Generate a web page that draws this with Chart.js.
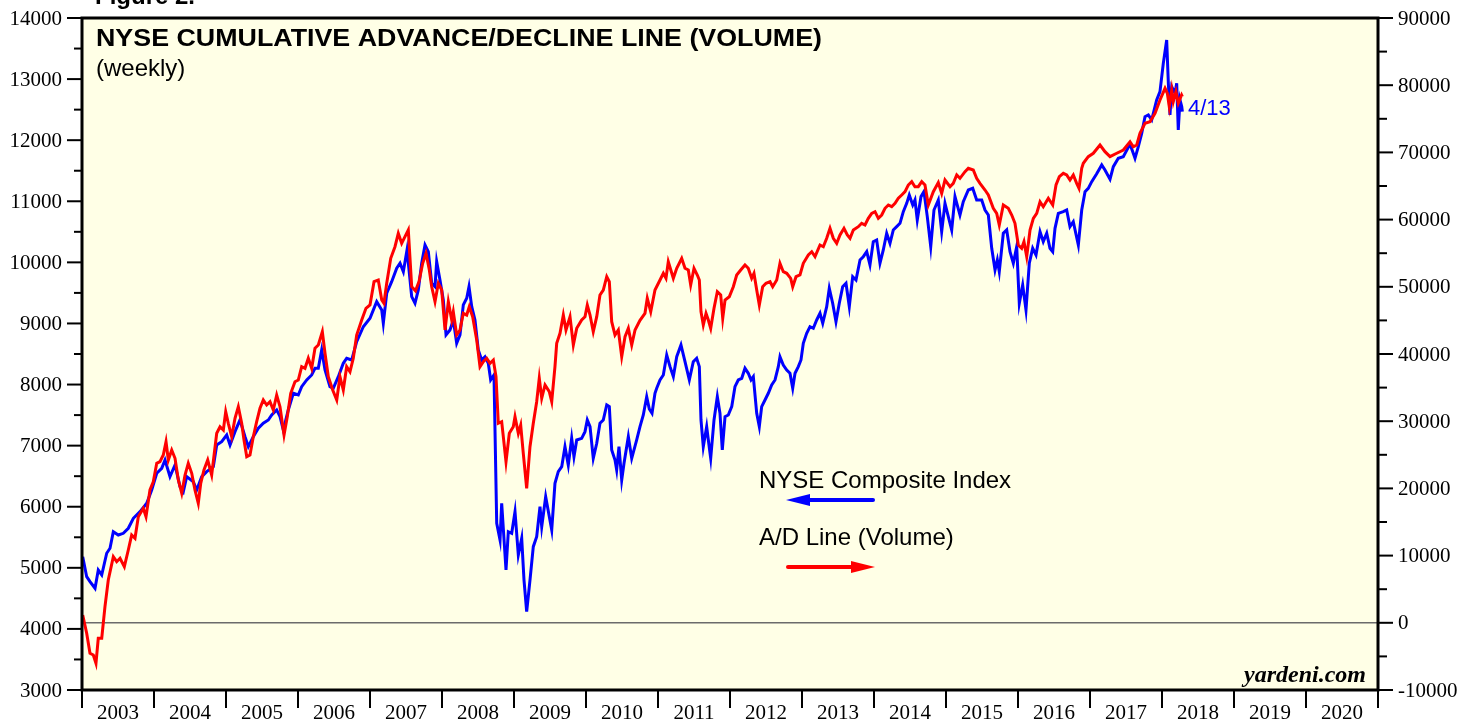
<!DOCTYPE html>
<html>
<head>
<meta charset="utf-8">
<script src="https://cdn.jsdelivr.net/npm/chart.js@4.4.1/dist/chart.umd.min.js"></script>
<style>
html,body{margin:0;padding:0;background:#fff;}
#wrap{width:1461px;height:721px;position:relative;}
</style>
</head>
<body>
<div id="wrap"><canvas id="c" width="1461" height="721"></canvas></div>
<script>
// ---------- DATA ----------
const years = [2003,2004,2005,2006,2007,2008,2009,2010,2011,2012,2013,2014,2015,2016,2017,2018,2019,2020];
const leftTicks = [3000,4000,5000,6000,7000,8000,9000,10000,11000,12000,13000,14000];
const rightTicks = [-10000,0,10000,20000,30000,40000,50000,60000,70000,80000,90000];

const nyseDates = [2003.010,2003.065,2003.111,2003.181,2003.226,2003.274,2003.343,2003.389,2003.435,2003.504,2003.574,2003.643,2003.713,2003.806,2003.899,2003.968,
2004.038,2004.107,2004.153,2004.222,2004.292,2004.361,2004.407,2004.454,2004.546,2004.593,2004.663,2004.732,2004.824,2004.871,2004.940,
2005.010,2005.056,2005.125,2005.194,2005.264,2005.310,2005.379,2005.449,2005.518,2005.588,2005.635,2005.704,2005.750,2005.796,2005.865,2005.935,
2006.004,2006.051,2006.121,2006.190,2006.236,2006.282,2006.329,2006.375,2006.444,2006.490,2006.560,2006.629,2006.676,2006.746,2006.815,2006.907,
2007.000,2007.093,2007.163,2007.185,2007.232,2007.301,2007.371,2007.417,2007.463,2007.514,2007.579,2007.625,2007.671,2007.718,2007.764,2007.810,2007.857,2007.903,2007.926,2007.972,
2008.018,2008.056,2008.111,2008.157,2008.204,2008.250,2008.296,2008.343,2008.375,2008.413,2008.458,2008.504,2008.551,2008.597,2008.643,2008.676,2008.722,2008.760,2008.806,2008.829,2008.889,2008.921,2008.968,
2009.014,2009.060,2009.107,2009.139,2009.176,2009.222,2009.268,2009.315,2009.361,2009.385,2009.440,2009.524,2009.569,2009.615,2009.663,2009.708,2009.754,2009.801,2009.833,2009.871,2009.940,2009.986,
2010.018,2010.056,2010.101,2010.149,2010.194,2010.240,2010.288,2010.324,2010.357,2010.403,2010.426,2010.458,2010.496,2010.528,2010.588,2010.635,2010.704,2010.750,2010.796,2010.843,2010.879,2010.917,2010.958,2010.982,
2011.028,2011.074,2011.121,2011.167,2011.213,2011.260,2011.319,2011.375,2011.435,2011.490,2011.537,2011.574,2011.597,2011.629,2011.676,2011.699,2011.732,2011.778,2011.824,2011.861,2011.893,2011.931,2011.976,
2012.024,2012.069,2012.115,2012.163,2012.208,2012.254,2012.292,2012.324,2012.371,2012.407,2012.440,2012.486,2012.532,2012.579,2012.625,2012.671,2012.694,2012.740,2012.788,2012.833,2012.871,2012.903,2012.949,2012.986,
2013.018,2013.065,2013.111,2013.157,2013.204,2013.250,2013.288,2013.343,2013.379,2013.426,2013.472,2013.518,2013.565,2013.611,2013.657,2013.704,2013.750,2013.806,2013.851,2013.899,2013.944,2013.990,
2014.037,2014.083,2014.129,2014.176,2014.222,2014.268,2014.315,2014.361,2014.407,2014.454,2014.490,2014.538,2014.569,2014.601,2014.653,2014.694,2014.740,2014.788,2014.833,2014.893,2014.940,2014.986,
2015.032,2015.079,2015.125,2015.194,2015.240,2015.310,2015.371,2015.426,2015.496,2015.542,2015.588,2015.635,2015.681,2015.713,2015.740,2015.796,2015.843,2015.889,2015.935,2015.982,
2016.018,2016.065,2016.111,2016.157,2016.204,2016.250,2016.306,2016.351,2016.399,2016.444,2016.482,2016.514,2016.560,2016.629,2016.676,2016.722,2016.768,2016.838,2016.885,2016.931,2016.976,
2017.024,2017.093,2017.163,2017.208,2017.278,2017.324,2017.393,2017.462,2017.556,2017.601,2017.625,2017.671,2017.718,2017.764,2017.810,2017.857,2017.926,2017.972,
2018.018,2018.065,2018.088,2018.111,2018.135,2018.181,2018.204,2018.226,2018.250,2018.274,2018.283];
const nyseValues = [5182,4855,4773,4665,4964,4883,5238,5320,5591,5537,5565,5647,5811,5919,6056,6274,
6547,6629,6765,6492,6683,6328,6246,6492,6410,6274,6492,6574,6656,7011,7065,
7174,7011,7229,7420,7147,6983,7147,7284,7366,7420,7502,7584,7474,7256,7584,7857,
7829,7965,8075,8157,8266,8266,8566,8238,7965,7939,8129,8348,8430,8402,8702,8947,
9085,9357,9221,9003,9494,9684,9903,9985,9848,10203,9438,9330,9548,9985,10285,10175,9658,9603,10012,9712,
9385,8812,8894,9057,8675,8812,9303,9412,9603,9275,9057,8566,8402,8456,8348,8075,8157,5729,5456,6056,4964,5591,5565,
5919,5210,5483,4800,4282,4800,5346,5510,6001,5673,6164,5619,6383,6574,6656,6983,6683,7120,6819,7093,7120,7229,
7420,7311,6793,7038,7366,7420,7666,7638,6929,6765,6602,6983,6438,6711,7147,6793,7093,7311,7502,7800,7600,7530,7857,7939,
8075,8157,8484,8293,8129,8456,8648,8375,8075,8375,8430,8293,7420,6983,7311,7093,6793,7420,7802,7529,6929,7474,7502,
7638,7965,8075,8102,8266,8184,8075,8129,7529,7311,7638,7747,7857,7993,8075,8293,8456,8320,8238,8184,7939,8184,8293,8402,
8675,8839,8947,8921,9057,9167,9003,9275,9576,9330,9029,9330,9603,9658,9275,9766,9712,10039,10093,10175,9958,10339,
10367,9985,10203,10476,10312,10530,10584,10639,10830,10966,11103,10939,11021,10694,11076,11158,10748,10257,10857,11021,10503,10966,
10748,10530,11076,10775,10994,11185,11212,11021,11021,10857,10775,10230,9876,10039,9848,10476,10530,10175,9985,10257,
9330,9630,9221,9985,10230,10121,10503,10339,10476,10230,10175,10557,10803,10830,10857,10584,10666,10285,10857,11158,11212,
11321,11450,11594,11512,11360,11567,11703,11730,11935,11785,11703,11894,12112,12385,12412,12331,12658,12794,
13258,13640,12931,12412,12876,12767,12931,12167,12658,12549,12467];

const adDates = [2003.010,2003.065,2003.111,2003.157,2003.194,2003.226,2003.274,2003.319,2003.365,2003.435,2003.482,2003.528,2003.588,2003.643,2003.690,2003.736,2003.782,2003.851,2003.889,2003.944,2003.990,
2004.038,2004.083,2004.129,2004.167,2004.199,2004.246,2004.292,2004.338,2004.385,2004.431,2004.476,2004.524,2004.569,2004.615,2004.649,2004.694,2004.746,2004.801,2004.871,2004.917,2004.963,2004.996,
2005.032,2005.079,2005.125,2005.171,2005.218,2005.250,2005.288,2005.333,2005.379,2005.426,2005.472,2005.518,2005.565,2005.611,2005.657,2005.704,2005.750,2005.806,2005.851,2005.899,2005.958,
2006.004,2006.051,2006.097,2006.143,2006.190,2006.236,2006.282,2006.338,2006.375,2006.421,2006.482,2006.538,2006.583,2006.629,2006.676,2006.722,2006.768,2006.815,2006.885,2006.944,
2007.000,2007.056,2007.115,2007.163,2007.194,2007.232,2007.288,2007.347,2007.393,2007.440,2007.486,2007.532,2007.579,2007.632,2007.681,2007.732,2007.778,2007.824,2007.857,2007.903,2007.949,2007.996,
2008.042,2008.088,2008.135,2008.157,2008.204,2008.250,2008.296,2008.343,2008.379,2008.426,2008.482,2008.528,2008.574,2008.621,2008.667,2008.713,2008.750,2008.782,2008.829,2008.889,2008.935,2008.990,
2009.014,2009.060,2009.093,2009.129,2009.176,2009.222,2009.268,2009.315,2009.351,2009.385,2009.431,2009.490,2009.524,2009.569,2009.593,2009.639,2009.685,2009.722,2009.778,2009.824,2009.871,2009.940,2009.986,
2010.018,2010.056,2010.101,2010.149,2010.194,2010.240,2010.288,2010.324,2010.357,2010.403,2010.449,2010.496,2010.542,2010.588,2010.635,2010.681,2010.750,2010.819,2010.851,2010.899,2010.958,
2011.028,2011.074,2011.111,2011.143,2011.213,2011.260,2011.329,2011.375,2011.421,2011.454,2011.500,2011.546,2011.574,2011.597,2011.629,2011.667,2011.699,2011.732,2011.778,2011.824,2011.871,2011.899,2011.931,2011.990,
2012.046,2012.093,2012.149,2012.208,2012.254,2012.301,2012.333,2012.371,2012.407,2012.454,2012.500,2012.556,2012.593,2012.649,2012.694,2012.740,2012.788,2012.843,2012.871,2012.917,2012.972,
2013.018,2013.088,2013.135,2013.181,2013.250,2013.296,2013.343,2013.389,2013.435,2013.482,2013.528,2013.583,2013.629,2013.667,2013.713,2013.782,2013.829,2013.875,2013.921,2013.968,
2014.014,2014.060,2014.107,2014.153,2014.199,2014.246,2014.292,2014.338,2014.385,2014.431,2014.476,2014.524,2014.569,2014.615,2014.663,2014.708,2014.754,2014.824,2014.893,2014.940,2014.986,
2015.056,2015.101,2015.149,2015.194,2015.264,2015.310,2015.379,2015.426,2015.472,2015.542,2015.588,2015.657,2015.704,2015.740,2015.796,2015.865,2015.913,2015.958,
2016.004,2016.051,2016.083,2016.121,2016.167,2016.213,2016.260,2016.306,2016.351,2016.421,2016.482,2016.528,2016.574,2016.629,2016.676,2016.722,2016.768,2016.815,2016.847,2016.885,2016.907,2016.976,
2017.046,2017.139,2017.208,2017.278,2017.371,2017.463,2017.556,2017.601,2017.649,2017.694,2017.764,2017.833,2017.903,2017.972,
2018.042,2018.074,2018.101,2018.135,2018.157,2018.194,2018.226,2018.272,2018.283];
const adValues = [1161,-1562,-4538,-4791,-6027,-2306,-2306,2396,6369,9836,9092,9598,8348,10833,13065,12574,15788,17038,15788,19761,20996,
23734,23972,24969,26948,24225,25713,24478,21249,19270,21994,23734,22246,19761,17782,20758,22737,24225,21994,28199,29181,28690,31413,
29687,27693,30431,32157,29687,27202,24716,24969,27693,29925,31919,33154,32410,32901,31666,33898,32157,27946,30669,34151,35877,
36130,38109,37871,39359,37871,40848,41339,43318,40103,36621,34643,33154,36621,34643,38109,37365,39359,42827,45060,46799,
47292,50758,51011,48036,47544,50519,54240,55966,57959,56472,57457,58451,50014,49400,50800,53495,54983,52498,50014,47782,50519,49522,
43573,47782,45060,46294,42827,43573,46056,45804,47039,45551,42083,38109,38853,39359,38615,39106,36621,29687,29925,23972,28199,29181,
30669,28199,29434,25222,20014,26205,29687,32901,36383,33407,35386,34390,32901,38109,41592,43080,45804,43573,45551,41339,43820,45060,45551,
47292,45804,43318,45551,48780,49522,51504,50758,44808,42827,43573,39597,42575,43820,41339,43573,45000,46056,48289,46294,49522,
51011,52007,51264,53734,51264,52752,54240,52752,52498,50268,52752,51757,51011,46294,44315,46056,45060,43820,46799,49270,48780,45312,48036,48527,
50014,51757,52498,53243,52752,51264,52007,49522,47292,50014,50519,50758,50014,51011,53495,52250,52007,51264,50014,51504,51757,
53495,54736,55221,54479,56220,55966,57217,58704,57217,56472,57707,58704,57707,57217,58451,58943,59448,59195,60192,60936,
61180,60192,60683,61680,62173,61918,62423,63170,63666,64157,65145,65640,64895,64895,65640,65145,62173,64157,65520,63910,65893,
64895,65400,66637,66146,67129,67635,67382,66146,65400,64404,63666,61680,60936,59195,62173,61680,60683,59448,
56220,55728,56710,54479,58451,60192,60936,62660,61918,63170,62173,65145,66384,66891,66637,65893,66637,65400,64656,67635,68378,69362,
69868,71101,70106,69362,69868,70355,71594,70849,71101,72842,74330,74568,75817,77797,
79538,78794,76800,79284,77543,79031,77305,78540,78287];

// ---------- CHART ----------
const nysePts = nyseDates.map((d,i)=>({x:d,y:nyseValues[i]}));
const adPts = adDates.map((d,i)=>({x:d,y:adValues[i]}));

const SANS = '"Liberation Sans", Arial, sans-serif';
const SERIF = '"Liberation Serif", "Times New Roman", serif';

function line(ctx,x1,y1,x2,y2){ctx.beginPath();ctx.moveTo(x1,y1);ctx.lineTo(x2,y2);ctx.stroke();}
function textFit(ctx,txt,x,y,w){ // draw text stretched horizontally to width w
  const m = ctx.measureText(txt).width; ctx.save(); ctx.translate(x,y); ctx.scale(w/m,1); ctx.fillText(txt,0,0); ctx.restore();
}

const deco = {
  id:'deco',
  beforeDraw(chart){
    const {ctx, chartArea:a} = chart;
    ctx.save(); ctx.fillStyle='#FFFFE6'; ctx.fillRect(a.left,a.top,a.right-a.left,a.bottom-a.top); ctx.restore();
  },
  beforeDatasetsDraw(chart){
    const {ctx, chartArea:a} = chart; const yr = chart.scales.yR;
    ctx.save(); ctx.strokeStyle='#6b6b6b'; ctx.lineWidth=1.5;
    const y0 = yr.getPixelForValue(0); line(ctx,a.left,y0,a.right,y0); ctx.restore();
  },
  afterDatasetsDraw(chart){
    const {ctx, chartArea:a} = chart;
    const xs = chart.scales.x, yl = chart.scales.yL, yr = chart.scales.yR;
    ctx.save();
    ctx.strokeStyle='#000'; ctx.fillStyle='#000'; ctx.lineWidth=2;
    // left ticks
    leftTicks.forEach((v,i)=>{
      const y = yl.getPixelForValue(v); line(ctx,a.left-15,y,a.left,y);
      if(i<leftTicks.length-1){ const ym = yl.getPixelForValue(v+500); line(ctx,a.left-8,ym,a.left,ym);}
    });
    rightTicks.forEach((v,i)=>{
      const y = yr.getPixelForValue(v); line(ctx,a.right,y,a.right+15,y);
      if(i<rightTicks.length-1){ const ym = yr.getPixelForValue(v+5000); line(ctx,a.right,ym,a.right+9,ym);}
    });
    years.concat([years[years.length-1]+1]).forEach(yv=>{
      const x = xs.getPixelForValue(yv); line(ctx,x,a.bottom,x,a.bottom+18);
    });
    // tick labels
    ctx.font = '21px '+SERIF; ctx.textBaseline='middle';
    ctx.textAlign='right';
    leftTicks.forEach(v=>{ ctx.fillText(String(v), a.left-20, yl.getPixelForValue(v)+1); });
    ctx.textAlign='left';
    rightTicks.forEach(v=>{ ctx.fillText(String(v), a.right+20, yr.getPixelForValue(v)+1); });
    ctx.textAlign='center'; ctx.textBaseline='alphabetic';
    years.forEach(yv=>{ ctx.fillText(String(yv), xs.getPixelForValue(yv+0.5), a.bottom+29); });
    // border
    ctx.lineWidth=3; ctx.strokeRect(a.left,a.top,a.right-a.left,a.bottom-a.top);
    // titles
    ctx.textAlign='left'; ctx.textBaseline='alphabetic';
    ctx.font='bold 24px '+SANS;
    ctx.fillText('Figure 2.', 95, 4);
    textFit(ctx,'NYSE CUMULATIVE ADVANCE/DECLINE LINE (VOLUME)', 96, 46, 726);
    ctx.font='24px '+SANS;
    ctx.fillText('(weekly)', 96, 76);
    // legend
    ctx.fillText('NYSE Composite Index', 759, 488);
    ctx.fillText('A/D Line (Volume)', 759, 545);
    // arrows
    ctx.lineWidth=4; ctx.lineCap='round';
    ctx.strokeStyle='#0000FF'; ctx.fillStyle='#0000FF';
    line(ctx,873,500,806,500);
    ctx.beginPath(); ctx.moveTo(786,500); ctx.lineTo(810,494); ctx.lineTo(810,506); ctx.closePath(); ctx.fill();
    ctx.strokeStyle='#FF0000'; ctx.fillStyle='#FF0000';
    line(ctx,788,567,854,567);
    ctx.beginPath(); ctx.moveTo(875,567); ctx.lineTo(851,561); ctx.lineTo(851,573); ctx.closePath(); ctx.fill();
    // date label
    ctx.fillStyle='#0000FF'; ctx.font='22px '+SANS;
    ctx.fillText('4/13', 1188, 115);
    // source
    ctx.fillStyle='#000'; ctx.font='italic bold 24px '+SERIF; ctx.textAlign='right';
    ctx.fillText('yardeni.com', 1366, 682);
    ctx.restore();
  }
};

new Chart(document.getElementById('c'), {
  type:'scatter',
  data:{datasets:[
    {label:'A/D Line (Volume)', data:adPts, yAxisID:'yR', showLine:true, borderColor:'#FF0000', borderWidth:3, pointRadius:0, tension:0, order:0},
    {label:'NYSE Composite Index', data:nysePts, yAxisID:'yL', showLine:true, borderColor:'#0000FF', borderWidth:3, pointRadius:0, tension:0, order:1}
  ]},
  options:{
    responsive:false, animation:false, devicePixelRatio:1,
    layout:{padding:{left:82,right:83,top:18,bottom:31}},
    plugins:{legend:{display:false}, title:{display:false}, tooltip:{enabled:false}},
    events:[],
    scales:{
      x:{type:'linear', min:2003, max:2021, display:false},
      yL:{type:'linear', position:'left', min:3000, max:14000, display:false},
      yR:{type:'linear', position:'right', min:-10000, max:90000, display:false}
    }
  },
  plugins:[deco]
});
</script>
</body>
</html>
